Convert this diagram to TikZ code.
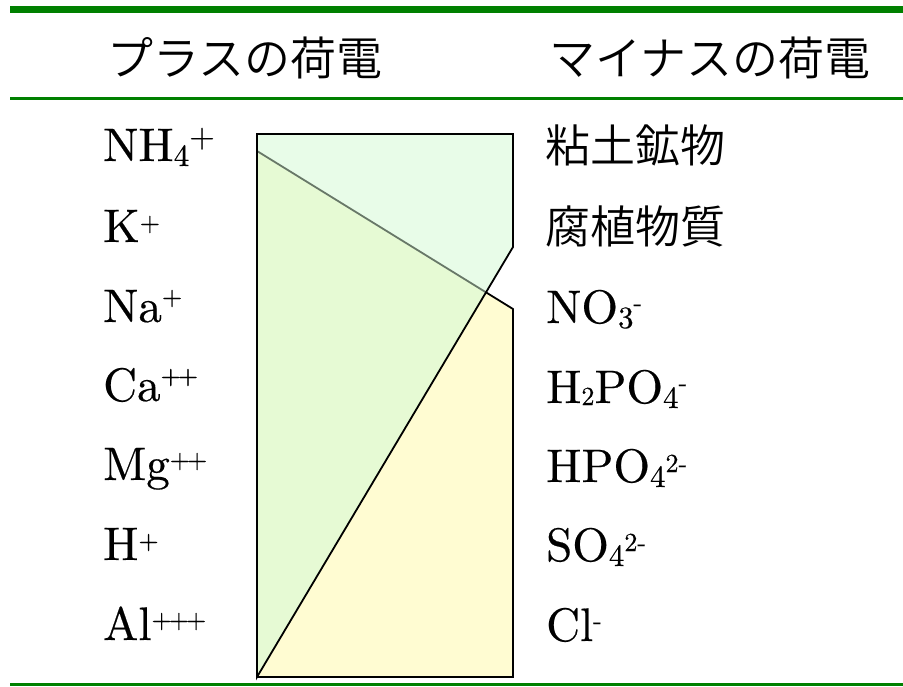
\documentclass[tikz,border=0pt]{standalone}
\usepackage{fontspec}
\newfontfamily\jpfont{Noto Sans CJK JP DemiLight}
\newfontfamily\latfont{lmroman10-regular.otf}[FakeBold=0.4]
\usetikzlibrary{calc}
\definecolor{linegreen}{RGB}{0,128,0}
\definecolor{mint}{RGB}{232,252,232}
\definecolor{overlapgreen}{RGB}{230,250,212}
\definecolor{paleyellow}{RGB}{255,252,210}
\definecolor{seamgray}{RGB}{104,120,104}
\newcommand\lowered[3]{\raisebox{-#2pt}{\fontsize{#1}{#1}\selectfont #3}}
\newcommand\raised[3]{\raisebox{#2pt}{\fontsize{#1}{#1}\selectfont #3}}
\begin{document}
\begin{tikzpicture}[x=1pt,y=-1pt,
  lat/.style={anchor=base west,inner sep=0pt,font=\latfont\fontsize{47}{56}\selectfont},
  jp/.style={anchor=base west,inner sep=0pt,font=\jpfont\fontsize{45}{54}\selectfont},
  head/.style={anchor=base west,inner sep=0pt,font=\jpfont\fontsize{46}{55}\selectfont},
  outline/.style={line width=1.8pt,line join=miter}]
\useasboundingbox (0,0) rectangle (903,686);
% rules
\coordinate (r1a) at (10,9.5);   \coordinate (r1b) at (903,9.5);
\coordinate (r2a) at (10,98.5);  \coordinate (r2b) at (903,98.5);
\coordinate (r3a) at (10,684.5); \coordinate (r3b) at (903,684.5);
\draw[linegreen,line width=7pt] (r1a) -- (r1b);
\draw[linegreen,line width=3pt] (r2a) -- (r2b);
\draw[linegreen,line width=3pt] (r3a) -- (r3b);
% headers
\node[head] (hplus) at (107,75) {プラスの荷電};
\node[head] (hminus) at (549,75) {マイナスの荷電};
% shapes
\coordinate (tl) at (257,134);
\coordinate (tr) at (513,134);
\coordinate (rk) at (513,247);
\coordinate (bl) at (257,677);
\coordinate (br) at (513,677);
\coordinate (ys) at (257,151);
\coordinate (ye) at (513,309);
\coordinate (xx) at (intersection of ys--ye and rk--bl);
\fill[paleyellow] (ys) -- (ye) -- (br) -- (bl) -- cycle;
\fill[mint] (tl) -- (tr) -- (rk) -- (bl) -- cycle;
\fill[overlapgreen] (ys) -- (xx) -- (bl) -- cycle;
\draw[seamgray,line width=1.8pt] (ys) -- (xx);
\draw[outline] (xx) -- (ye) -- (br) -- (bl);
\draw[outline] (tl) -- (tr) -- (rk) -- (bl) -- cycle;
% left labels
\node[lat] (nh4) at (103,161) {NH\lowered{31}{5}{4}\raised{33}{14}{+}};
\node[lat] (k)   at (103,242) {K\raised{26}{11}{+}};
\node[lat] (na)  at (103,322) {Na\raised{26}{17}{+}};
\node[lat] (ca)  at (103,401) {Ca\raised{26}{17}{+\kern-3pt+}};
\node[lat] (mg)  at (103,480) {Mg\raised{26}{12}{+\kern-3pt+}};
\node[lat] (h)   at (103,560) {H\raised{26}{11}{+}};
\node[lat] (al)  at (103,640) {Al\raised{26}{12}{+\kern-3pt+\kern-3pt+}};
% right labels
\node[jp]  (clay)  at (545,162) {粘土鉱物};
\node[jp]  (humus) at (545,243) {腐植物質};
\node[lat] (no3)   at (546,323) {NO\lowered{31}{5}{3}\raised{26}{12}{-}};
\node[lat] (h2po4) at (546,403) {H\lowered{26}{2}{2}PO\lowered{31}{5}{4}\raised{26}{12}{-}};
\node[lat] (hpo4)  at (546,482) {HPO\lowered{31}{5}{4}\raised{26}{10}{2-}};
\node[lat] (so4)   at (546,561) {SO\lowered{31}{5}{4}\raised{26}{10}{2-}};
\node[lat] (cl)    at (546,641) {Cl\raised{26}{12}{-}};
\end{tikzpicture}
\end{document}
